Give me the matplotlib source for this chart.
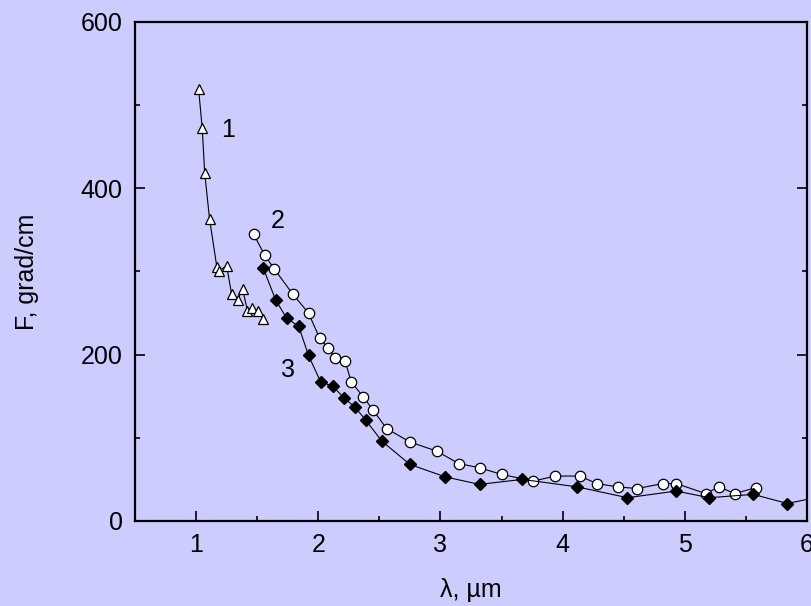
import numpy as np
import matplotlib
matplotlib.use("Agg")
import matplotlib.pyplot as plt
from matplotlib.ticker import MultipleLocator

# Curva 1 (triángulos)
x1 = [1.02, 1.05, 1.07, 1.11, 1.17, 1.19, 1.25, 1.29, 1.34, 1.38, 1.42, 1.46, 1.51, 1.55]
y1 = [520, 472, 419, 363, 305, 301, 307, 273, 266, 279, 253, 256, 253, 243]

# Curva 2 (círculos abiertos)
x2 = [1.47, 1.56, 1.64, 1.79, 1.92, 2.01, 2.08, 2.14, 2.22, 2.27, 2.37, 2.45, 2.56, 2.75,
      2.97, 3.15, 3.32, 3.50, 3.76, 3.94, 4.14, 4.28, 4.45, 4.61, 4.82, 4.93, 5.17, 5.28,
      5.41, 5.58]
y2 = [345, 320, 303, 273, 250, 220, 208, 196, 192, 167, 149, 133, 111, 95,
      84, 69, 64, 56, 48, 54, 54, 45, 41, 39, 45, 45, 33, 41,
      33, 40]

# Curva 3 (rombos negros)
x3 = [1.55, 1.65, 1.74, 1.84, 1.92, 2.02, 2.12, 2.21, 2.30, 2.39, 2.52, 2.75,
      3.04, 3.32, 3.67, 4.12, 4.53, 4.93, 5.20, 5.56, 5.84, 6.10]
y3 = [304, 266, 244, 234, 199, 167, 162, 148, 137, 121, 96, 68,
      53, 44, 50, 41, 28, 36, 28, 32, 21, 29]

labels = ["1", "2", "3"]
label_pos = [(1.26, 470), (1.67, 361), (1.75, 182)]

bg = "#CCCCFF"
plt.rcParams['font.family'] = ['Liberation Sans', 'DejaVu Sans']

fig = plt.figure(figsize=(8.12, 6.06), dpi=100, facecolor=bg)
ax = fig.add_axes([0.1663, 0.1403, 0.8275, 0.8234], facecolor=bg)

ax.plot(x2, y2, '-', color='black', lw=0.8, marker='o', ms=7.5,
        mfc='white', mec='black', mew=0.9, clip_on=True)
ax.plot(x3, y3, '-', color='black', lw=0.8, marker='D', ms=6,
        mfc='black', mec='black', clip_on=True)
ax.plot(x1, y1, '-', color='black', lw=0.8, marker='^', ms=7.5,
        mfc='white', mec='black', mew=0.9, clip_on=True)

for lab, (lx, ly) in zip(labels, label_pos):
    ax.text(lx, ly, lab, fontsize=18, ha='center', va='center')

ax.set_xlim(0.5, 6.0)
ax.set_ylim(0, 600)
ax.xaxis.set_major_locator(MultipleLocator(1))
ax.xaxis.set_minor_locator(MultipleLocator(0.5))
ax.yaxis.set_major_locator(MultipleLocator(200))
ax.yaxis.set_minor_locator(MultipleLocator(100))

ax.tick_params(which='both', direction='in', labelsize=18, width=1.2)
ax.tick_params(which='major', length=7)
ax.tick_params(which='minor', length=3.5)
ax.tick_params(axis='x', which='both', pad=9)
ax.tick_params(axis='y', which='both', pad=9, right=True)

for s in ax.spines.values():
    s.set_linewidth(1.6)

ax.set_xlabel("λ, µm", fontsize=18, va='center')
ax.set_ylabel("F, grad/cm", fontsize=18, va='center')
ax.xaxis.set_label_coords(0.5, -0.138)
ax.yaxis.set_label_coords(-0.161, 0.5)

plt.savefig("out.png", dpi=100, facecolor=bg)
